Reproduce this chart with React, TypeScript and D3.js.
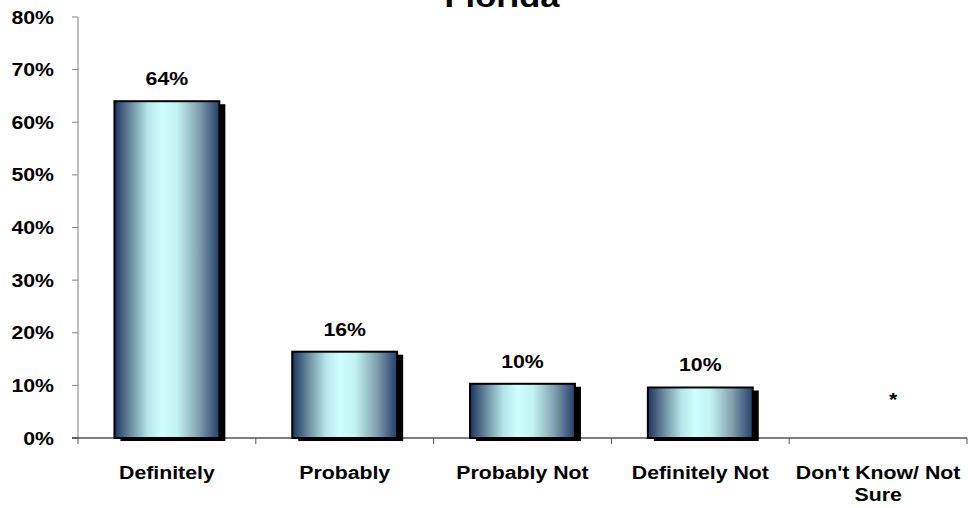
import React from "react";
import * as d3 from "d3";

const categories = ["Definitely", "Probably", "Probably Not", "Definitely Not", "Don't Know/ Not Sure"];
const values = [64, 16.4, 10.3, 9.6, 0];
const valueLabels = ["64%", "16%", "10%", "10%", "*"];
const yTicks = [0, 10, 20, 30, 40, 50, 60, 70, 80];
const title = "Florida";

const W = 974;
const H = 508;
const M = { left: 78, right: 967, top: 17, bottom: 438 };
const SX = 1.15;
const FONT = "'Liberation Sans', Arial, sans-serif";

function T(props: { x: number; y: number; anchor?: string; size?: number; children: React.ReactNode }) {
  const { x, y, anchor = "middle", size = 18.5, children } = props;
  return (
    <text
      transform={`translate(${x},${y}) scale(${SX},1)`}
      textAnchor={anchor}
      fontFamily={FONT}
      fontWeight="bold"
      fontSize={size}
      fill="#000"
    >
      {children}
    </text>
  );
}

export default function App() {
  const x = d3.scaleBand<string>().domain(categories).range([M.left, M.right]).paddingInner(0.41).paddingOuter(0.205);
  const band = d3.scaleBand<string>().domain(categories).range([M.left, M.right]);
  const y = d3.scaleLinear().domain([0, 80]).range([M.bottom, M.top]);

  const lines = (s: string) => (s === "Don't Know/ Not Sure" ? ["Don't Know/ Not", "Sure"] : [s]);

  return (
    <svg width={W} height={H} style={{ position: "absolute", left: 0, top: 0, background: "#fff" }}>
      <defs>
        <linearGradient id="barGrad" x1="0" x2="1" y1="0" y2="0">
          <stop offset="0" stopColor="#1c3561" />
          <stop offset="0.15" stopColor="#6a8a9e" />
          <stop offset="0.32" stopColor="#b4e6ea" />
          <stop offset="0.45" stopColor="#cdffff" />
          <stop offset="0.6" stopColor="#c2f2f2" />
          <stop offset="0.8" stopColor="#82a2b0" />
          <stop offset="1" stopColor="#233f6a" />
        </linearGradient>
      </defs>

      <T x={502} y={7} size={30}>{title}</T>

      {/* y axis */}
      <line x1={M.left} x2={M.left} y1={M.top} y2={M.bottom} stroke="#808080" strokeWidth={1} />
      {yTicks.map((t) => (
        <g key={t}>
          <line x1={M.left - 6} x2={M.left} y1={y(t)} y2={y(t)} stroke="#808080" />
          <T x={54} y={y(t) + 6.5} anchor="end">{`${t}%`}</T>
        </g>
      ))}

      {/* bars */}
      {categories.map((c, i) => {
        const bx = x(c)!;
        const bw = x.bandwidth();
        const top = y(values[i]);
        const h = M.bottom - top;
        return (
          <g key={c}>
            {h > 0 && (
              <>
                <rect x={bx + 6} y={top + 3} width={bw} height={h} fill="#000" />
                <rect x={bx} y={top} width={bw} height={h} fill="url(#barGrad)" stroke="#000" strokeWidth={2} />
              </>
            )}
          </g>
        );
      })}

      {/* x axis */}
      <line x1={M.left - 6} x2={M.right} y1={M.bottom} y2={M.bottom} stroke="#000" strokeWidth={1.2} />
      {categories.map((c) => (
        <line key={c} x1={band(c)!} x2={band(c)!} y1={M.bottom} y2={M.bottom + 6} stroke="#555" />
      ))}
      <line x1={M.right} x2={M.right} y1={M.bottom} y2={M.bottom + 6} stroke="#555" />

      {/* value labels */}
      {categories.map((c, i) => {
        const cx = x(c)! + x.bandwidth() / 2;
        const isStar = valueLabels[i] === "*";
        return (
          <T key={c} x={cx + (isStar ? 15 : 0)} y={y(values[i]) - (isStar ? 32 : 16)}>
            {valueLabels[i]}
          </T>
        );
      })}

      {/* category labels */}
      {categories.map((c) => {
        const cx = band(c)! + band.bandwidth() / 2;
        return lines(c).map((l, j) => (
          <T key={c + j} x={cx} y={479 + j * 22}>{l}</T>
        ));
      })}
    </svg>
  );
}
